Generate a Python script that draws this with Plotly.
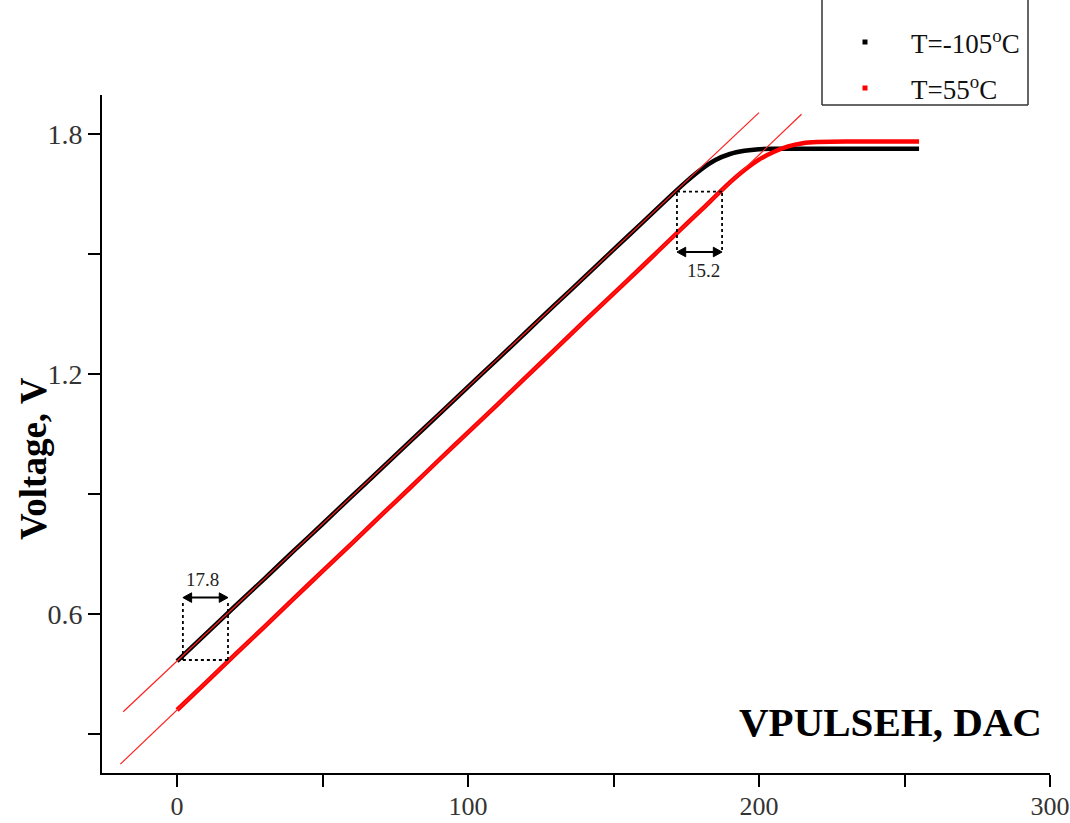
import plotly.graph_objects as go

# ---- data ----
dac_cold = [0, 10, 20, 30, 40, 50, 60, 70, 80, 90, 100, 110, 120, 130, 140, 150, 160,
            170, 175, 180, 185, 190, 195, 200, 205, 210, 220, 230, 240, 255]
v_cold = [0.482, 0.551, 0.620, 0.688, 0.757, 0.825, 0.894, 0.962, 1.031, 1.099, 1.168,
          1.236, 1.305, 1.374, 1.442, 1.511, 1.579, 1.648, 1.681, 1.711, 1.735, 1.750,
          1.758, 1.762, 1.763, 1.763, 1.763, 1.763, 1.763, 1.763]

dac_hot = [0, 10, 20, 30, 40, 50, 60, 70, 80, 90, 100, 110, 120, 130, 140, 150, 160,
           170, 180, 190, 195, 200, 205, 210, 215, 220, 230, 240, 255]
v_hot = [0.360, 0.429, 0.499, 0.568, 0.638, 0.707, 0.776, 0.846, 0.915, 0.985, 1.054,
         1.123, 1.193, 1.262, 1.332, 1.401, 1.470, 1.540, 1.609, 1.679, 1.710, 1.736,
         1.755, 1.769, 1.777, 1.780, 1.781, 1.781, 1.781]

# linear fits (intercept, slope) and drawn extent
fit_cold = {"b": 0.4825, "k": 0.006855, "x": [-18.5, 200.0]}
fit_hot = {"b": 0.360, "k": 0.00694, "x": [-19.5, 214.6]}

series_names = ["T=-105<sup>o</sup>C", "T=55<sup>o</sup>C"]
series_colors = ["#000000", "#ff0000"]

x_major = [0, 100, 200, 300]
x_minor = [50, 150, 250]
y_major = [0.6, 1.2, 1.8]
y_minor = [0.3, 0.9, 1.5]

shift_low = "17.8"
shift_high = "15.2"

SERIF = "Liberation Serif"

fig = go.Figure()

fig.add_trace(go.Scatter(x=dac_cold, y=v_cold, mode="lines", name=series_names[0],
                         line=dict(color=series_colors[0], width=4.5, shape="spline", smoothing=0.6),
                         showlegend=False))
fig.add_trace(go.Scatter(x=dac_hot, y=v_hot, mode="lines", name=series_names[1],
                         line=dict(color=series_colors[1], width=4.5, shape="spline", smoothing=0.6),
                         showlegend=False))

for f in (fit_cold, fit_hot):
    fx = f["x"]
    fy = [f["b"] + f["k"] * v for v in fx]
    fig.add_trace(go.Scatter(x=fx, y=fy, mode="lines", showlegend=False,
                             line=dict(color="#ff2020", width=1.2), hoverinfo="skip"))

shapes = []
dot = dict(color="black", width=1.8, dash="dot")
solid = dict(color="black", width=2)
# lower box (17.8)
bx0, bx1, by0, by1 = 2.0, 17.5, 0.485, 0.635
shapes += [
    dict(type="line", xref="x", yref="y", x0=bx0, x1=bx0, y0=by0, y1=by1, line=dot),
    dict(type="line", xref="x", yref="y", x0=bx1, x1=bx1, y0=by0, y1=by1, line=dot),
    dict(type="line", xref="x", yref="y", x0=bx0, x1=bx1, y0=by0, y1=by0, line=dot),
]
# upper box (15.2)
cx0, cx1, cy0, cy1 = 171.8, 187.3, 1.51, 1.656
shapes += [
    dict(type="line", xref="x", yref="y", x0=cx0, x1=cx0, y0=cy0, y1=cy1, line=dot),
    dict(type="line", xref="x", yref="y", x0=cx1, x1=cx1, y0=cy0, y1=cy1, line=dot),
    dict(type="line", xref="x", yref="y", x0=cx0, x1=cx1, y0=cy1, y1=cy1, line=dot),
]

# double-headed arrows as shapes
ah_len, ah_half = 3.0, 0.012  # arrowhead length (DAC) and half height (V)
for (xa, xb, ya) in [(bx0, bx1, 0.641), (cx0, cx1, 1.505)]:
    shapes.append(dict(type="line", xref="x", yref="y", x0=xa + 1, x1=xb - 1, y0=ya, y1=ya, line=solid))
    shapes.append(dict(type="path", xref="x", yref="y",
                       path=f"M {xa},{ya} L {xa + ah_len},{ya + ah_half} L {xa + ah_len},{ya - ah_half} Z",
                       fillcolor="black", line=dict(color="black", width=1)))
    shapes.append(dict(type="path", xref="x", yref="y",
                       path=f"M {xb},{ya} L {xb - ah_len},{ya + ah_half} L {xb - ah_len},{ya - ah_half} Z",
                       fillcolor="black", line=dict(color="black", width=1)))

# manual legend (box top runs off the page as in the reference)
def px_x(p):
    return (p - 102) / 948.0

def px_y(p):
    return (773 - p) / 678.0

leg_line = dict(color="#333333", width=1.5)
lx0, lx1, ly_top, ly_bot = px_x(822), px_x(1028), px_y(0), px_y(105)
shapes += [
    dict(type="line", xref="paper", yref="paper", x0=lx0, x1=lx0, y0=ly_bot, y1=ly_top, line=leg_line),
    dict(type="line", xref="paper", yref="paper", x0=lx1, x1=lx1, y0=ly_bot, y1=ly_top, line=leg_line),
    dict(type="line", xref="paper", yref="paper", x0=lx0, x1=lx1, y0=ly_bot, y1=ly_bot, line=leg_line),
]
for i, yy in enumerate([42, 88]):
    shapes.append(dict(type="rect", xref="paper", yref="paper",
                       x0=px_x(862.5), x1=px_x(867.5), y0=px_y(yy + 2.5), y1=px_y(yy - 2.5),
                       line=dict(width=0), fillcolor=series_colors[i]))

annotations = []
for i, yy in enumerate([42, 88]):
    annotations.append(dict(xref="paper", yref="paper", x=px_x(909), y=px_y(yy),
                            xanchor="left", yanchor="middle", showarrow=False,
                            text=series_names[i],
                            font=dict(family=SERIF, size=27, color="#111111")))

annotations.append(dict(x=8.9, y=0.6875, xref="x", yref="y", text=shift_low, showarrow=False,
                        font=dict(family=SERIF, size=19, color="#222222")))
annotations.append(dict(x=180.8, y=1.46, xref="x", yref="y", text=shift_high, showarrow=False,
                        font=dict(family=SERIF, size=19, color="#222222")))

# x-axis title drawn inside the plot
annotations.append(dict(xref="paper", yref="paper", x=px_x(890), y=px_y(722),
                        xanchor="center", yanchor="middle", showarrow=False,
                        text="<b>VPULSEH, DAC</b>",
                        font=dict(family=SERIF, size=41, color="black")))
# y-axis title (placed like the reference, slightly below centre)
annotations.append(dict(xref="paper", yref="paper", x=px_x(33), y=px_y(459),
                        xanchor="center", yanchor="middle", showarrow=False,
                        textangle=-90, text="<b>Voltage, V</b>",
                        font=dict(family=SERIF, size=37, color="black")))

tick_style = dict(ticks="outside", ticklen=12, tickwidth=2, tickcolor="black")

fig.update_layout(
    width=1070, height=823,
    margin=dict(l=102, r=20, t=95, b=50, autoexpand=False),
    paper_bgcolor="white", plot_bgcolor="white",
    shapes=shapes, annotations=annotations,
    showlegend=False,
    xaxis=dict(range=[-25.8, 300], tickvals=x_major,
               minor=dict(tickvals=x_minor, **tick_style),
               showline=True, linecolor="black", linewidth=2, mirror=False,
               showgrid=False, zeroline=False, automargin=False,
               ticklabeloverflow="allow", ticklabelstandoff=-3,
               tickfont=dict(family=SERIF, size=26, color="#333333"), **tick_style),
    yaxis=dict(range=[0.2025, 1.8975], tickvals=y_major,
               minor=dict(tickvals=y_minor, **tick_style),
               showline=True, linecolor="black", linewidth=2, mirror=False,
               showgrid=False, zeroline=False, automargin=False,
               ticklabeloverflow="allow",
               tickfont=dict(family=SERIF, size=28, color="#333333"), **tick_style),
)

fig.write_html("out.html")
